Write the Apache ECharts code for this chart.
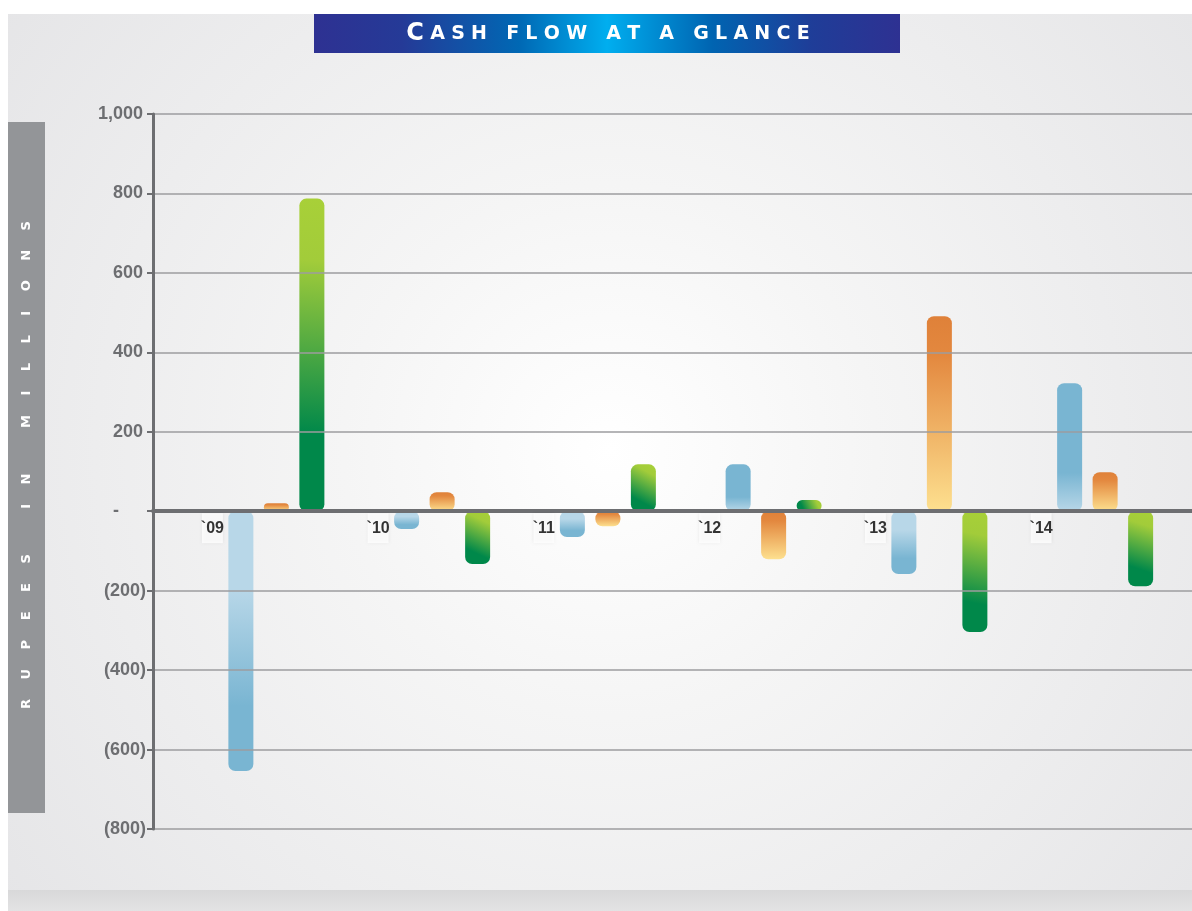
<!DOCTYPE html>
<html>
<head>
<meta charset="utf-8">
<title>Cash flow at a glance</title>
<script src="https://cdn.jsdelivr.net/npm/echarts@6/dist/echarts.min.js"></script>
<style>
  html, body { margin: 0; padding: 0; background: #ffffff; }
  #chart { width: 1192px; height: 911px; }
</style>
</head>
<body>
<div id="chart"></div>
<script>
// Financial years shown along the zero line
const years = ['`09', '`10', '`11', '`12', '`13', '`14'];

// Cash flow per year, rupees in millions
const operatingFlow = [-654, -45, -65, 118, -158, 322];
const investingFlow = [20, 48, -38, -121, 491, 98];
const financingFlow = [787, -133, 118, 28, -304, -189];

// Value axis range and step
const axisMin = -800;
const axisMax = 1000;
const axisStep = 200;

const titleText = 'CASH FLOW AT A GLANCE';
const unitText = 'RUPEES IN MILLIONS';

const GRID_TOP = 114, GRID_BOTTOM = 82;
const AXIS_GREY = '#6d6e71';
const NUM_FONT = '"Liberation Sans Narrow", "Liberation Sans", Arial, sans-serif';

// Spread letters apart with fixed-width unicode spaces
function spread(str, gap, wordGap) {
  return str.split(' ').map(w => w.split('').join(gap)).join(wordGap);
}

function vGrad(stops) {
  return { type: 'linear', x: 0, y: 0, x2: 0, y2: 1,
    colorStops: stops.map(s => ({ offset: s[0], color: s[1] })) };
}

// Blue: lighter next to the zero line, deeper away from it
function blueFill(v) {
  const light = '#b8d7e8', dark = '#79b5d2';
  return v >= 0
    ? vGrad([[0, dark], [0.7, dark], [1, light]])
    : vGrad([[0, light], [0.3, light], [0.75, dark], [1, dark]]);
}
// Orange: deep orange at the top fading to pale yellow
function orangeFill() {
  return vGrad([[0, '#df8139'], [0.2, '#e3883f'], [1, '#fde08f']]);
}
// Green: lime at the upper right, deep green at the lower left
function greenFill() {
  return { type: 'linear', x: 1, y: 0, x2: 0, y2: 1,
    colorStops: [
      { offset: 0, color: '#a8d038' }, { offset: 0.2, color: '#a2cc3a' },
      { offset: 0.75, color: '#00884a' }, { offset: 1, color: '#00884a' }
    ] };
}

function barSeries(name, values, fill) {
  return {
    name: name,
    type: 'bar',
    xAxisIndex: 1,
    yAxisIndex: 1,
    barWidth: 25,
    barGap: '42%',
    z: 3,
    itemStyle: { borderRadius: 7 },
    data: values.map(v => ({ value: v, itemStyle: { color: fill(v) } }))
  };
}

function fmtNum(v) {
  return Math.abs(v).toLocaleString('en-US');
}

const chart = echarts.init(document.getElementById('chart'), null, { renderer: 'canvas' });

const option = {
  animation: false,
  backgroundColor: '#ffffff',
  graphic: [
    {
      type: 'rect', z: -100, silent: true,
      shape: { x: 8, y: 14, width: 1184, height: 897 },
      style: { fill: { type: 'radial', x: 610, y: 450, r: 760, global: true,
        colorStops: [
          { offset: 0, color: '#ffffff' },
          { offset: 0.35, color: '#f5f5f5' },
          { offset: 1, color: '#e5e5e7' }
        ] } }
    },
    {
      type: 'rect', z: -99, silent: true,
      shape: { x: 8, y: 890, width: 1184, height: 21 },
      style: { fill: vGrad([[0, '#d8d8d9'], [1, '#e3e3e4']]) }
    },
    {
      type: 'rect', z: 10, silent: true,
      shape: { x: 314, y: 14, width: 586, height: 39 },
      style: { fill: { type: 'linear', x: 0, y: 0, x2: 1, y2: 0,
        colorStops: [
          { offset: 0, color: '#2e3192' },
          { offset: 0.15, color: '#253a97' },
          { offset: 0.35, color: '#0068b4' },
          { offset: 0.5, color: '#00aeef' },
          { offset: 0.68, color: '#0064b1' },
          { offset: 0.85, color: '#1f3d98' },
          { offset: 1, color: '#2e3192' }
        ] } }
    },
    {
      type: 'text', z: 11, silent: true,
      x: 608, y: 34,
      style: {
        text: '{a|' + titleText.charAt(0) + '}{b|\u2004' +
              spread(titleText.slice(1), '\u2004', '\u2004 \u2004') + '}',
        align: 'center',
        verticalAlign: 'middle',
        rich: {
          a: { fontFamily: '"DejaVu Sans", sans-serif', fontWeight: 'bold', fontSize: 24, fill: '#ffffff', color: '#ffffff' },
          b: { fontFamily: '"DejaVu Sans", sans-serif', fontWeight: 'bold', fontSize: 19, fill: '#ffffff', color: '#ffffff' }
        }
      }
    },
    {
      type: 'rect', z: 10, silent: true,
      shape: { x: 8, y: 122, width: 37, height: 691 },
      style: { fill: '#939598' }
    },
    {
      type: 'text', z: 11, silent: true,
      x: 27, y: 465, rotation: Math.PI / 2,
      style: {
        text: spread(unitText, '\u2003\u2002', '\u2003\u2002\u2002\u2003\u2002'),
        fill: '#ffffff',
        font: 'bold 13px "DejaVu Sans", sans-serif',
        align: 'center',
        verticalAlign: 'middle'
      }
    }
  ],
  grid: [
    { left: 153, right: 0, top: GRID_TOP, bottom: GRID_BOTTOM },
    { left: 193.5, right: 4, top: GRID_TOP, bottom: GRID_BOTTOM }
  ],
  xAxis: [
    {
      gridIndex: 0, type: 'value', min: 0, max: 1, z: 5,
      axisLine: { show: true, onZero: true, lineStyle: { color: AXIS_GREY, width: 4 } },
      axisTick: { show: false }, axisLabel: { show: false }, splitLine: { show: false }
    },
    { gridIndex: 1, type: 'category', data: years, show: false }
  ],
  yAxis: [
    {
      gridIndex: 0, type: 'value', min: axisMin, max: axisMax, interval: axisStep, z: 4,
      axisLine: { show: true, onZero: false, lineStyle: { color: AXIS_GREY, width: 3 } },
      axisTick: { show: true, length: 6, lineStyle: { color: AXIS_GREY, width: 2 } },
      splitLine: { show: true, lineStyle: { color: '#9c9d9f', width: 1.5 } },
      axisLabel: {
        margin: 7,
        color: AXIS_GREY,
        fontFamily: NUM_FONT,
        fontWeight: 'bold',
        fontSize: 18,
        formatter: function (v) {
          if (v === 0) return '{z|-}';
          if (v < 0) return '(' + fmtNum(v) + ')';
          return '{p|' + fmtNum(v) + '}';
        },
        rich: {
          z: { color: AXIS_GREY, fontFamily: NUM_FONT, fontWeight: 'bold', fontSize: 18, padding: [0, 27, 0, 0] },
          p: { color: AXIS_GREY, fontFamily: NUM_FONT, fontWeight: 'bold', fontSize: 18, padding: [0, 3, 0, 0] }
        }
      }
    },
    { gridIndex: 1, type: 'value', min: axisMin, max: axisMax, show: false }
  ],
  series: [
    barSeries('Operating', operatingFlow, blueFill),
    barSeries('Investing', investingFlow, orangeFill),
    barSeries('Financing', financingFlow, greenFill),
    {
      name: 'Year',
      type: 'scatter',
      xAxisIndex: 1,
      yAxisIndex: 1,
      symbolSize: 1,
      z: 6,
      silent: true,
      itemStyle: { color: 'rgba(0,0,0,0)' },
      data: years.map(y => [y, 0]),
      label: {
        show: true,
        position: 'inside',
        offset: [-64, 17],
        formatter: p => p.value[0],
        color: '#000000',
        fontFamily: NUM_FONT,
        fontWeight: 'bold',
        fontSize: 16,
        backgroundColor: '#ffffff',
        width: 21,
        height: 30,
        lineHeight: 30,
        align: 'center',
        shadowColor: 'rgba(0,0,0,0.12)',
        shadowBlur: 3
      }
    }
  ]
};

chart.setOption(option);
</script>
</body>
</html>
